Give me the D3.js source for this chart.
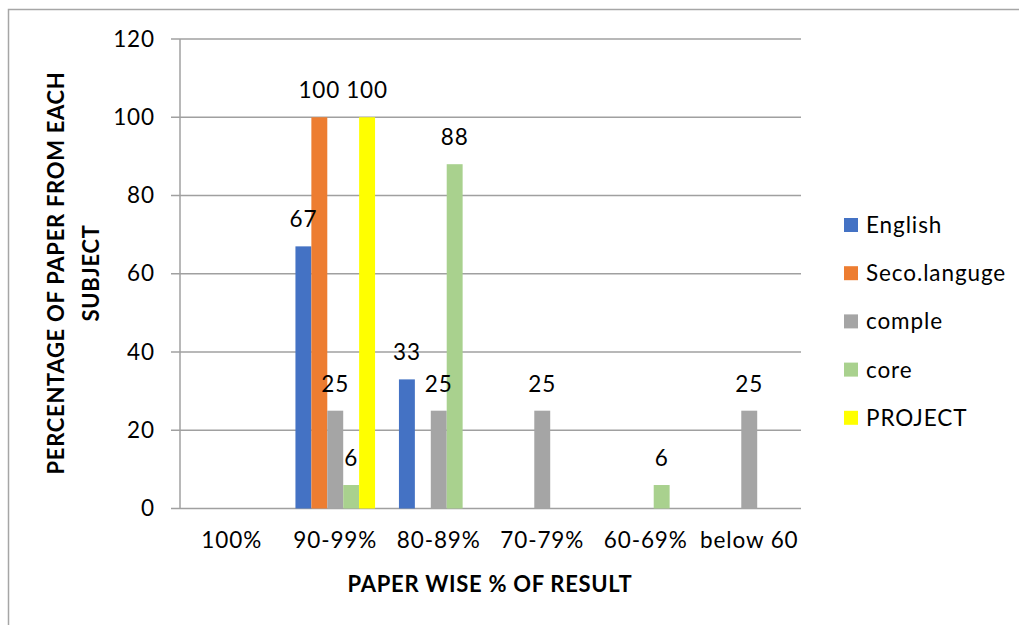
<!DOCTYPE html>
<html>
<head>
<meta charset="utf-8">
<script src="https://cdn.jsdelivr.net/npm/d3@7"></script>
<style>
  html, body { margin: 0; padding: 0; background: #fff; }
  svg { display: block; }
  text { font-family: Lato, "Open Sans", sans-serif; fill: #000; }
</style>
</head>
<body>
<svg id="chart" width="1019" height="625"></svg>
<script>
// Result bands (x categories)
const categories = ["100%", "90-99%", "80-89%", "70-79%", "60-69%", "below 60"];

// Subjects and their share of papers in each band
const seriesNames = ["English", "Seco.languge", "comple", "core", "PROJECT"];
const english     = [0, 67, 33, 0, 0, 0];
const secoLanguge = [0, 100, 0, 0, 0, 0];
const comple      = [0, 25, 25, 25, 0, 25];
const core        = [0, 6, 88, 0, 6, 0];
const project     = [0, 100, 0, 0, 0, 0];
const seriesColors = ["#4472C4", "#ED7D31", "#A5A5A5", "#A9D18E", "#FFFF00"];

const yTicks = [0, 20, 40, 60, 80, 100, 120];

const seriesValues = [english, secoLanguge, comple, core, project];
const rows = categories.map((c, i) => ({
  category: c,
  values: seriesNames.map((s, j) => ({ series: s, value: seriesValues[j][i], color: seriesColors[j] }))
}));

const FS = 22.5;      // regular text size
const LS = "0.9px";   // regular letter spacing
const FS_B = 22;      // bold title size
const LS_B = "0.7px";

const svg = d3.select("#chart");

// Outer frame
svg.append("rect")
  .attr("x", 8.5).attr("y", 9.5)
  .attr("width", 1100).attr("height", 700)
  .attr("fill", "none").attr("stroke", "#a6a6a6").attr("stroke-width", 1.5);

const plot = { left: 180, right: 801, top: 39, bottom: 508.5 };

const x = d3.scaleBand().domain(categories).range([plot.left, plot.right]).paddingInner(0).paddingOuter(0);
// 150% gap: bars take 5 of 6.5 slot units
const x1 = d3.scaleBand().domain(seriesNames)
  .range([0, x.bandwidth()]).paddingInner(0).paddingOuter(0.75);
const y = d3.scaleLinear().domain([0, 120]).range([plot.bottom, plot.top]);

// Horizontal gridlines with short tick stubs to the left
const grid = svg.append("g");
grid.selectAll("line").data(yTicks).join("line")
  .attr("x1", plot.left - 9).attr("x2", plot.right)
  .attr("y1", d => y(d)).attr("y2", d => y(d))
  .attr("stroke", "#a0a0a0").attr("stroke-width", 1.5);

// Vertical axis line
svg.append("line")
  .attr("x1", plot.left).attr("x2", plot.left)
  .attr("y1", plot.top).attr("y2", plot.bottom)
  .attr("stroke", "#a0a0a0").attr("stroke-width", 1.5);

// Y tick labels via d3 axis
const yAxis = d3.axisLeft(y).tickValues(yTicks).tickSize(0).tickPadding(25);
const yg = svg.append("g").attr("transform", `translate(${plot.left},0)`).call(yAxis);
yg.select(".domain").remove();
yg.selectAll("text").attr("font-size", FS).attr("font-family", "Lato, sans-serif")
  .attr("letter-spacing", LS).attr("fill", "#000");

// X tick labels via d3 axis
const xAxis = d3.axisBottom(x).tickSize(0).tickPadding(24);
const xg = svg.append("g").attr("transform", `translate(0,${plot.bottom})`).call(xAxis);
xg.select(".domain").remove();
xg.selectAll("text").attr("font-size", FS).attr("font-family", "Lato, sans-serif")
  .attr("letter-spacing", LS).attr("fill", "#000");

// Bars
const groups = svg.append("g").selectAll("g").data(rows).join("g")
  .attr("transform", d => `translate(${x(d.category)},0)`);

groups.selectAll("rect").data(d => d.values.filter(v => v.value > 0)).join("rect")
  .attr("x", d => x1(d.series))
  .attr("width", x1.bandwidth())
  .attr("y", d => y(d.value))
  .attr("height", d => y(0) - y(d.value))
  .attr("fill", d => d.color);

// Value labels
groups.selectAll("text.val").data(d => d.values.filter(v => v.value > 0)).join("text")
  .attr("class", "val")
  .attr("x", d => x1(d.series) + x1.bandwidth() / 2)
  .attr("y", d => y(d.value) - 19)
  .attr("text-anchor", "middle")
  .attr("font-size", FS).attr("letter-spacing", LS)
  .text(d => d.value);

// Axis titles
svg.append("text")
  .attr("x", 490)
  .attr("y", 592)
  .attr("text-anchor", "middle")
  .attr("font-size", FS_B).attr("font-weight", "bold").attr("letter-spacing", LS_B)
  .text("PAPER WISE % OF RESULT");

const yTitle = svg.append("text")
  .attr("transform", "translate(0,273) rotate(-90)")
  .attr("text-anchor", "middle")
  .attr("font-size", FS_B).attr("font-weight", "bold").attr("letter-spacing", LS_B);
yTitle.append("tspan").attr("x", 0).attr("y", 64).text("PERCENTAGE OF PAPER FROM EACH");
yTitle.append("tspan").attr("x", 0).attr("y", 99).text("SUBJECT");

// Legend
const legend = svg.append("g").attr("transform", "translate(844,218)");
const items = legend.selectAll("g").data(seriesNames).join("g")
  .attr("transform", (d, i) => `translate(0,${i * 48.2})`);
items.append("rect").attr("width", 14).attr("height", 14)
  .attr("fill", (d, i) => seriesColors[i]);
items.append("text").attr("x", 22).attr("y", 15)
  .attr("font-size", FS).attr("letter-spacing", LS).text(d => d);
</script>
</body>
</html>
